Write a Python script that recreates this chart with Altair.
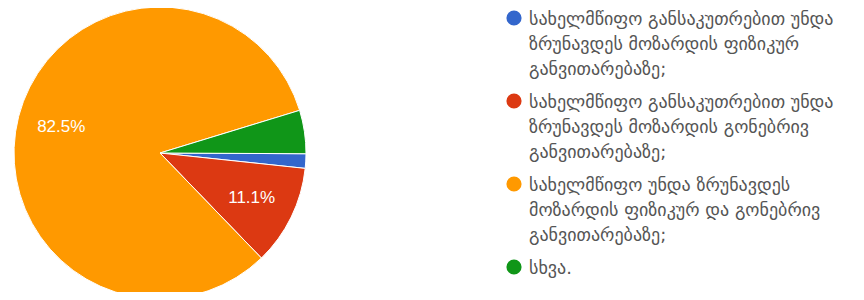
import altair as alt
import pandas as pd
import math

categories = [
    "სახელმწიფო განსაკუთრებით უნდა|ზრუნავდეს მოზარდის ფიზიკურ|განვითარებაზე;",
    "სახელმწიფო განსაკუთრებით უნდა|ზრუნავდეს მოზარდის გონებრივ|განვითარებაზე;",
    "სახელმწიფო უნდა ზრუნავდეს|მოზარდის ფიზიკურ და გონებრივ|განვითარებაზე;",
    "სხვა.",
]
values = [1.6, 11.1, 82.5, 4.8]
labels = ["", "11.1%", "82.5%", ""]
colors = ["#3366cc", "#dc3912", "#ff9900", "#109618"]

df = pd.DataFrame({
    "cat": categories,
    "value": values,
    "label": labels,
    "order": list(range(len(categories))),
})

start = math.pi / 2 + 0.005
theta_scale = alt.Scale(range=[start, start + 2 * math.pi])
cx, cy, R = 152, 145, 146

base = alt.Chart(df).encode(
    theta=alt.Theta("value:Q", stack=True, scale=theta_scale),
    order=alt.Order("order:Q"),
)

pie = base.mark_arc(outerRadius=R, stroke="#ffffff", strokeWidth=1, x=cx, y=cy).encode(
    color=alt.Color(
        "cat:N",
        scale=alt.Scale(domain=categories, range=colors),
        sort=categories,
        legend=alt.Legend(
            title=None,
            orient="none",
            legendX=497,
            legendY=1,
            symbolType="circle",
            symbolSize=230,
            symbolStrokeWidth=0,
            labelExpr="split(datum.label, '|')",
            labelFont="DejaVu Sans",
            labelFontSize=18,
            labelColor="#555555",
            labelLimit=400,
            labelBaseline="top",
            labelOffset=6,
            rowPadding=13,
        ),
    )
)

text = base.mark_text(radius=102, x=cx, y=cy, fill="#ffffff", fontSize=17, font="Liberation Sans").encode(
    text="label:N"
)

chart = (pie + text).properties(
    width=848, height=284, autosize=alt.AutoSizeParams(type="none"), padding=0
).configure(style={"guide-label": {"lineHeight": 25, "dy": -7}}).configure_view(stroke=None)

chart.save("out.html", embed_options={"renderer": "svg", "actions": False})
